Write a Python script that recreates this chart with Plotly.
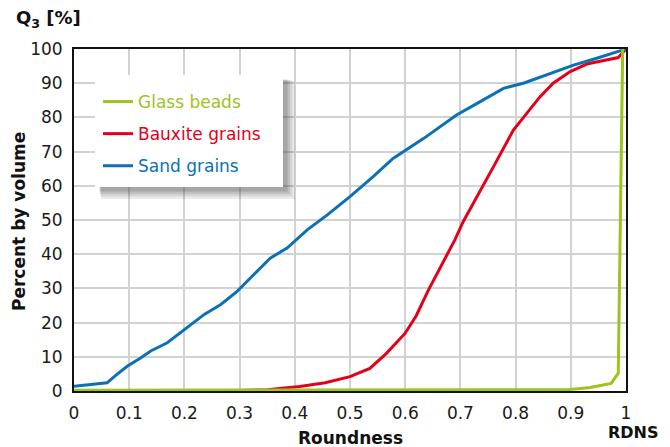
import plotly.graph_objects as go

# ---------------- data ----------------
sand_x = [0, 0.03, 0.06, 0.075, 0.097, 0.12, 0.139, 0.169, 0.205, 0.236, 0.266, 0.296, 0.32,
          0.356, 0.386, 0.423, 0.459, 0.482, 0.501, 0.542, 0.578, 0.633, 0.693, 0.736, 0.778,
          0.814, 0.856, 0.905, 0.947, 1.0]
sand_y = [1.4, 1.8, 2.4, 4.5, 7.3, 9.6, 11.7, 14.1, 18.5, 22.4, 25.3, 29.2, 33.1,
          38.9, 41.8, 47.2, 51.5, 54.4, 57.0, 62.7, 68.0, 73.8, 80.7, 84.6, 88.5,
          90.0, 92.4, 95.3, 97.3, 100]

bauxite_x = [0, 0.2, 0.3, 0.35, 0.409, 0.455, 0.5, 0.536, 0.566, 0.6, 0.62, 0.642, 0.69, 0.705,
             0.736, 0.76, 0.796, 0.817, 0.844, 0.868, 0.899, 0.929, 0.965, 0.986, 1.0]
bauxite_y = [0, 0.05, 0.15, 0.4, 1.3, 2.4, 4.2, 6.6, 11.0, 16.9, 22.0, 29.5, 44.2, 49.5,
             58.8, 65.6, 76.3, 80.7, 86.0, 90.0, 93.4, 95.6, 96.8, 97.5, 100]

glass_x = [0, 0.3, 0.6, 0.85, 0.895, 0.935, 0.973, 0.986, 0.994]
glass_y = [0.2, 0.25, 0.3, 0.35, 0.4, 1.0, 2.2, 5.2, 100]

x_ticks = [0, 0.1, 0.2, 0.3, 0.4, 0.5, 0.6, 0.7, 0.8, 0.9, 1]
x_tick_labels = ["0", "0.1", "0.2", "0.3", "0.4", "0.5", "0.6", "0.7", "0.8", "0.9", "1"]
y_ticks = [0, 10, 20, 30, 40, 50, 60, 70, 80, 90, 100]

series_names = ["Glass beads", "Bauxite grains", "Sand grains"]
GREEN, RED, BLUE = "#9CC41A", "#E3001B", "#0B71B6"

# ---------------- figure ----------------
W, H = 670, 447
ML, MR, MT, MB = 74, 44, 49, 56
PW, PH = W - ML - MR, H - MT - MB
FONT = "DejaVu Sans"


def px2paper(px, py):
    return (px - ML) / PW, (H - MB - py) / PH


fig = go.Figure()
fig.add_trace(go.Scatter(x=bauxite_x, y=bauxite_y, mode="lines",
                         name='<span style="color:%s">%s</span>' % (RED, series_names[1]),
                         legendgroup="b", line=dict(color=RED, width=3), legendrank=2))
fig.add_trace(go.Scatter(x=sand_x, y=sand_y, mode="lines",
                         name='<span style="color:%s">%s</span>' % (BLUE, series_names[2]),
                         legendgroup="c", line=dict(color=BLUE, width=3), legendrank=3))
fig.add_trace(go.Scatter(x=glass_x, y=glass_y, mode="lines",
                         name='<span style="color:%s">%s</span>' % (GREEN, series_names[0]),
                         legendgroup="a", line=dict(color=GREEN, width=3), legendrank=1))

# legend box with soft shadow
bx0, by0 = px2paper(95, 75)
bx1, by1 = px2paper(283, 187)
shapes = []
for i, op in enumerate([0.10, 0.12, 0.15, 0.18]):
    off = 9 - i * 1.5
    spread = 3 - i
    sx0, sy0 = px2paper(95 + off - spread, 75 + off - spread)
    sx1, sy1 = px2paper(283 + off + spread, 187 + off + spread)
    shapes.append(dict(type="rect", xref="paper", yref="paper", x0=sx0, y0=sy1, x1=sx1, y1=sy0,
                       fillcolor="rgba(60,60,60,%.2f)" % op, line=dict(width=0), layer="above"))
shapes.append(dict(type="rect", xref="paper", yref="paper", x0=bx0, y0=by1, x1=bx1, y1=by0,
                   fillcolor="white", line=dict(width=0), layer="above"))

lx, ly = px2paper(98, 84)

fig.update_layout(
    width=W, height=H,
    margin=dict(l=ML, r=MR, t=MT, b=MB),
    paper_bgcolor="white", plot_bgcolor="white",
    font=dict(family=FONT, size=17, color="#1a1a1a"),
    showlegend=True,
    legend=dict(x=lx, y=ly, xanchor="left", yanchor="top", bgcolor="rgba(0,0,0,0)",
                borderwidth=0, font=dict(family=FONT, size=17), traceorder="grouped",
                tracegroupgap=7, itemclick=False),
    shapes=shapes,
    xaxis=dict(range=[0, 1], tickvals=x_ticks, ticktext=x_tick_labels, showgrid=True,
               gridcolor="#d2d2d2", gridwidth=1.5, zeroline=False, showline=True,
               linecolor="#111", linewidth=2, mirror=True, ticks="", ticklabelstandoff=6,
               tickfont=dict(size=17, color="#1a1a1a")),
    yaxis=dict(range=[0, 100], tickvals=y_ticks, showgrid=True, gridcolor="#d2d2d2",
               gridwidth=1.5, zeroline=False, showline=True, linecolor="#111", linewidth=2,
               mirror=True, ticks="", ticklabelstandoff=6,
               tickfont=dict(size=17, color="#1a1a1a")),
    annotations=[
        dict(text="<b>Q<sub>3</sub> [%]</b>", xref="paper", yref="paper",
             x=px2paper(14, 0)[0], y=px2paper(0, 19)[1], xanchor="left", yanchor="middle",
             showarrow=False, font=dict(size=18, color="#111")),
        dict(text="<b>RDNS</b>", xref="paper", yref="paper",
             x=px2paper(661, 0)[0], y=px2paper(0, 432)[1], xanchor="right", yanchor="middle",
             showarrow=False, font=dict(size=16, color="#111")),
        dict(text="<b>Roundness</b>", xref="paper", yref="paper",
             x=px2paper(350, 0)[0], y=px2paper(0, 438)[1], xanchor="center", yanchor="middle",
             showarrow=False, font=dict(size=17, color="#111")),
        dict(text="<b>Percent by volume</b>", xref="paper", yref="paper",
             x=px2paper(19, 0)[0], y=px2paper(0, 222)[1], xanchor="center", yanchor="middle",
             textangle=-90, showarrow=False, font=dict(size=17, color="#111")),
    ],
)

fig.write_html("out.html")
